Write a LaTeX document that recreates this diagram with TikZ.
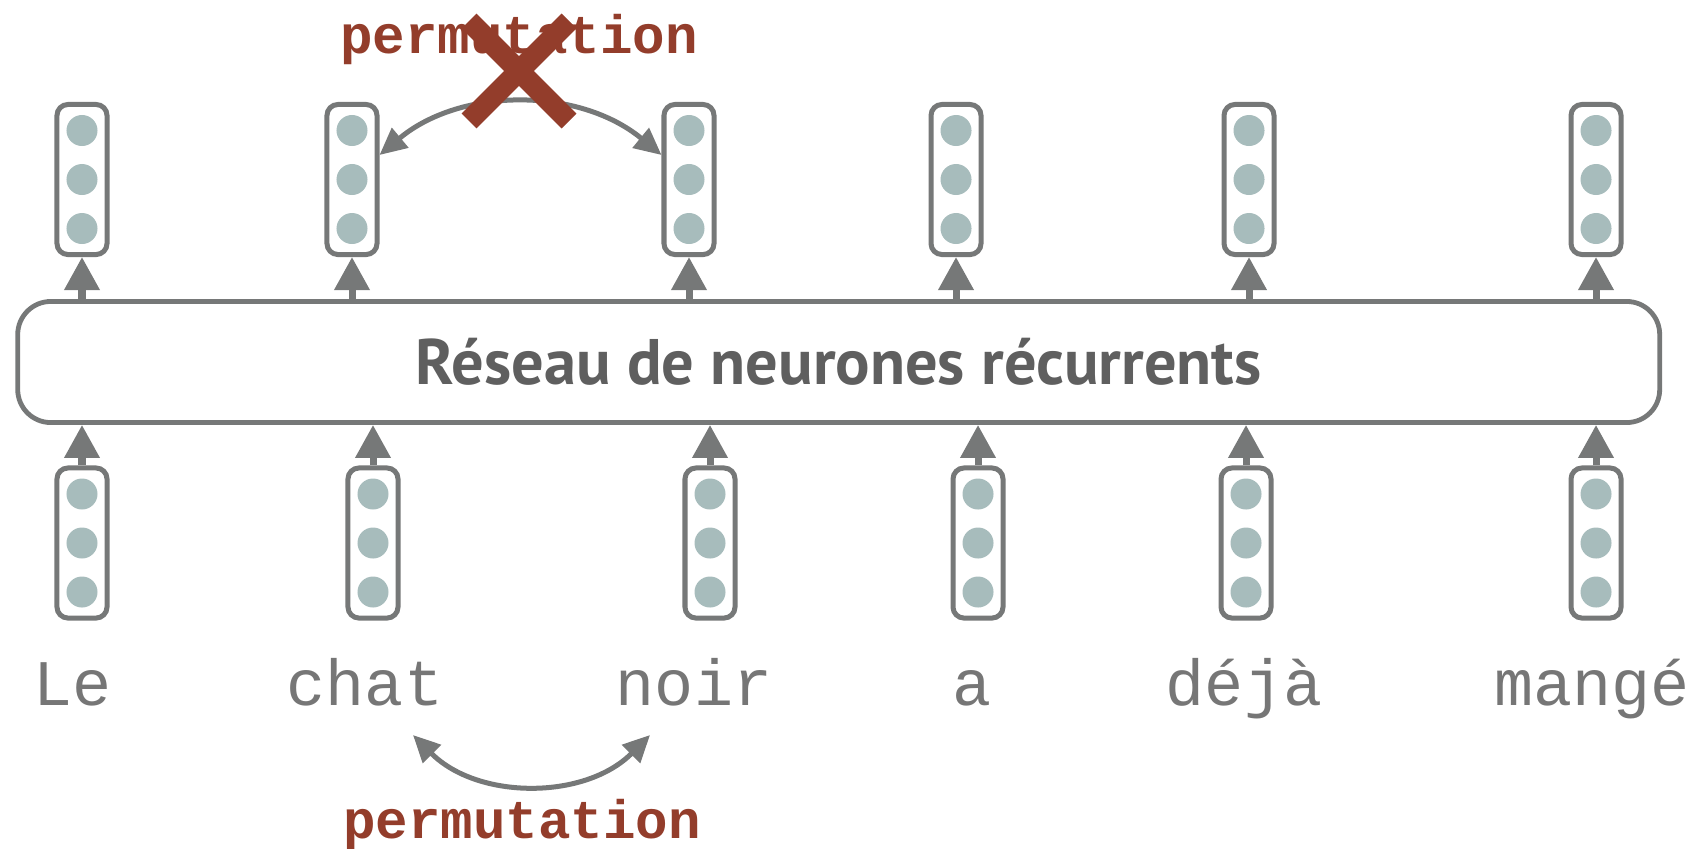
\documentclass[tikz,border=0pt]{standalone}
\usepackage{fontspec}
\setmonofont{Liberation Mono}
\newfontfamily\dinfont{PT Sans}
\usetikzlibrary{arrows.meta, positioning, calc}
\definecolor{figGray}{RGB}{118,120,120}
\definecolor{figDot}{RGB}{167,188,188}
\definecolor{figText}{RGB}{95,95,95}
\definecolor{figWord}{RGB}{118,118,118}
\definecolor{figRed}{RGB}{147,61,43}
\tikzset{
  vecbox/.style={draw=figGray, line width=0.05cm, rounded corners=0.11cm,
    minimum width=0.5cm, minimum height=1.5cm, inner sep=0pt},
  unit/.style={circle, fill=figDot, minimum size=0.31cm, inner sep=0pt},
  feed/.style={figGray, line width=0.07cm, -{Triangle[width=0.34cm, length=0.33cm]}},
  swap/.style={figGray, line width=0.05cm,
    {Triangle[width=0.25cm, length=0.27cm]}-{Triangle[width=0.25cm, length=0.27cm]}},
  word/.style={font=\fontsize{18.5}{20}\selectfont\ttfamily, text=figWord, anchor=base},
  permlabel/.style={font=\fontsize{15.4}{17}\selectfont\ttfamily\bfseries, text=figRed, anchor=base}
}

\begin{document}
\begin{tikzpicture}[x=0.01cm, y=-0.01cm]
\useasboundingbox (0,0) rectangle (1695,848);
% recurrent network block
\node[draw=figGray, line width=0.048cm, rounded corners=0.33cm, minimum width=16.41cm,
  minimum height=1.21cm, inner sep=0pt, text=figText,
  font=\fontsize{18.3}{20}\selectfont\dinfont\bfseries] (rnn) at (838.7,362)
  {Réseau de neurones récurrents};
% input and output vectors, one per word
\foreach \name/\xt/\xb/\xw/\txt in {le/82/82/73/Le, chat/352/373/365/chat,
    noir/689/710/694/noir, a/956/978/972/a, deja/1249/1246/1244/déjà,
    mange/1596/1596/1592/mangé} {
  \node[vecbox] (out-\name) at (\xt,179.5) {};
  \node[vecbox] (in-\name) at (\xb,543) {};
  \foreach \k in {1,2,3} {
    \node[unit] (out-\name-\k) at ($(out-\name)+(0,{49*(\k-2)})$) {};
    \node[unit] (in-\name-\k) at ($(in-\name)+(0,{49*(\k-2)})$) {};
  }
  \draw[feed] (in-\name.north) -- (in-\name.north |- rnn.south);
  \draw[feed] (out-\name.south |- rnn.north) -- (out-\name.south);
  \node[word] (w-\name) at (\xw,705) {\txt};
}
% forbidden swap on the outputs
\coordinate (topL) at ([yshift=0.245cm]out-chat.east);
\coordinate (topR) at ([yshift=0.245cm]out-noir.west);
\draw[swap] (topL) .. controls (461,87) and (579,87) .. (topR);
\node[permlabel] (permTop) at (519,53) {permutation};
\coordinate (veto) at (519,71);
\draw[figRed, line width=0.21cm] ($(veto)+(-50,-50)$) -- ($(veto)+(50,50)$);
\draw[figRed, line width=0.21cm] ($(veto)+(50,-50)$) -- ($(veto)+(-50,50)$);
% allowed swap on the words
\coordinate (botL) at (413,735);
\coordinate (botR) at (650,735);
\draw[swap] (botL) .. controls (478,800) and (585,800) .. (botR);
\node[permlabel] (permBot) at (522,838) {permutation};
\end{tikzpicture}
\end{document}
